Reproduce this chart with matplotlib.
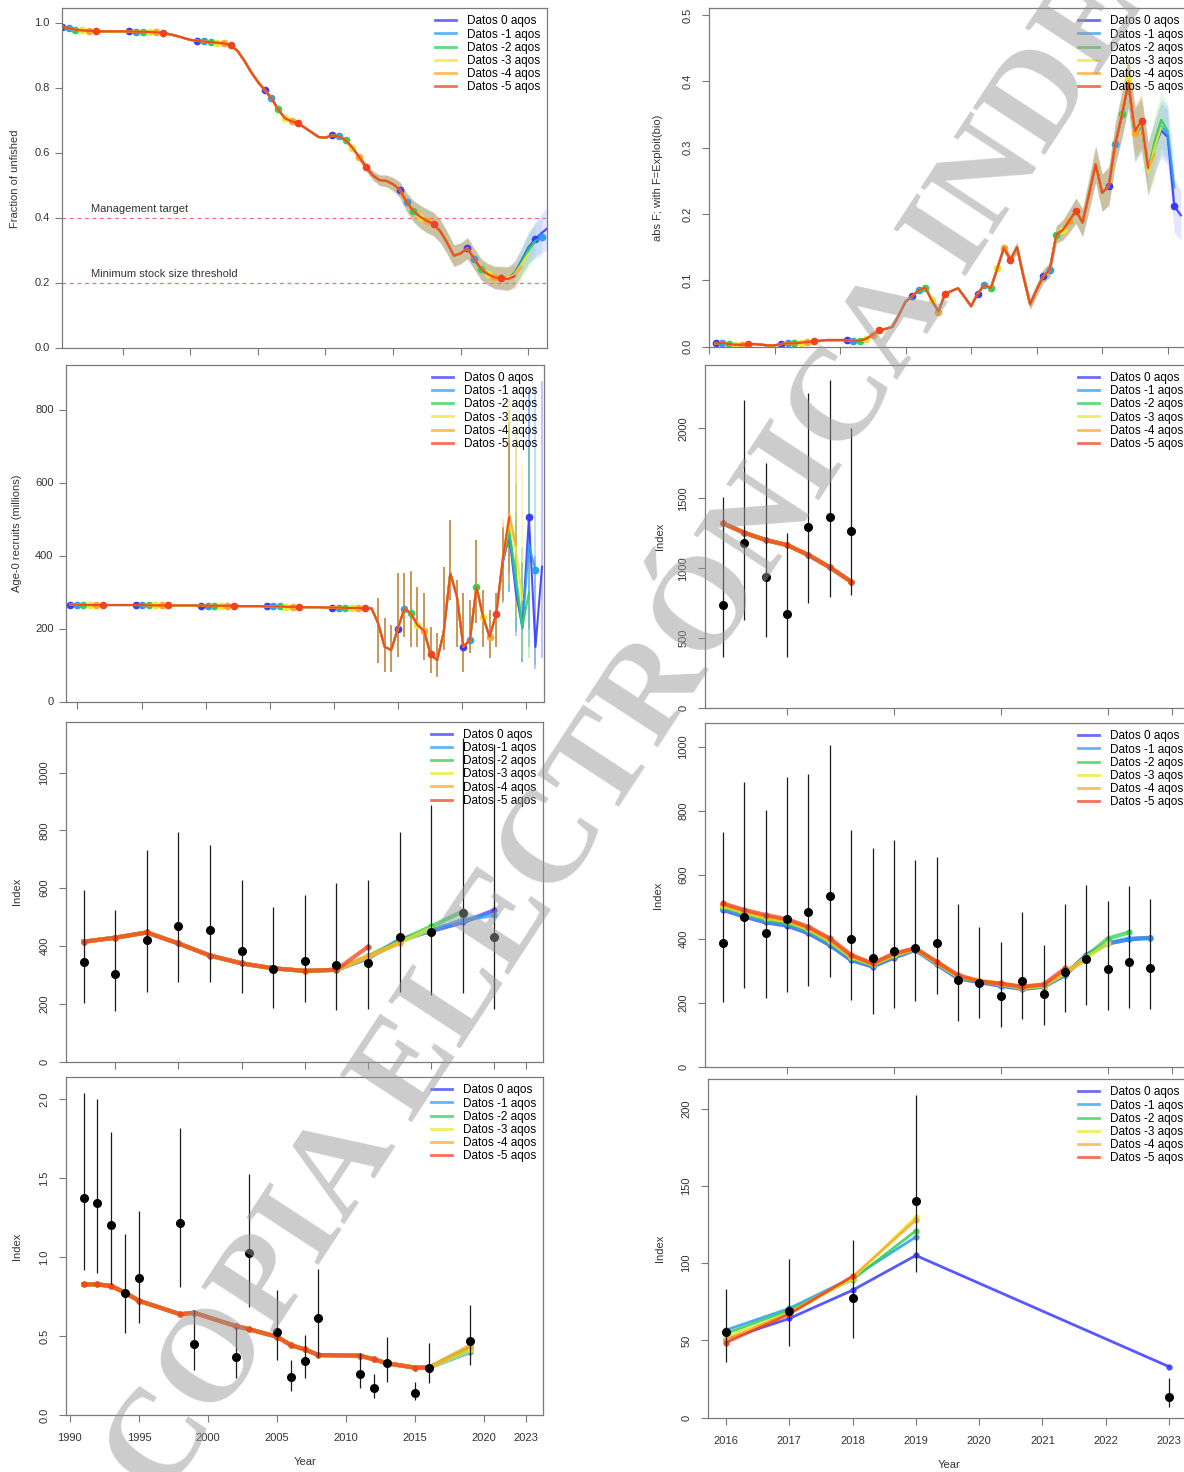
import numpy as np
import matplotlib
matplotlib.use("Agg")
import matplotlib.pyplot as plt
from matplotlib.lines import Line2D

plt.rcParams['font.family'] = ['Liberation Sans', 'DejaVu Sans']

# ======================= DATA =======================
model_labels = ["Datos 0 aqos", "Datos -1 aqos", "Datos -2 aqos",
                "Datos -3 aqos", "Datos -4 aqos", "Datos -5 aqos"]
model_colors = ["#3b3bff", "#2a9df4", "#2fd24f", "#e9e92a", "#ffa726", "#f0421f"]

# --- Fraction of unfished (spawning biomass ratio) ---
frac_years = np.arange(1951, 2013)
frac_common = [0.990, 0.985, 0.980, 0.978, 0.977, 0.976, 0.975, 0.975, 0.975, 0.975,
               0.975, 0.974, 0.974, 0.973, 0.972, 0.970, 0.966, 0.961, 0.955, 0.949,
               0.946, 0.944, 0.942, 0.940, 0.938, 0.932, 0.915, 0.885, 0.850, 0.820,
               0.795, 0.770, 0.735, 0.708, 0.698, 0.692, 0.678, 0.664, 0.650, 0.648,
               0.655, 0.652, 0.640, 0.617, 0.588, 0.558, 0.532, 0.517, 0.515, 0.505,
               0.488, 0.450, 0.422, 0.405, 0.392, 0.382, 0.360, 0.325, 0.285, 0.292,
               0.308, 0.275]
frac_tail_start = 2013
frac_tails = [
    [0.242, 0.226, 0.217, 0.215, 0.215, 0.232, 0.270, 0.310, 0.335, 0.355, 0.372],
    [0.243, 0.227, 0.218, 0.216, 0.215, 0.230, 0.266, 0.305, 0.330, 0.342],
    [0.244, 0.228, 0.219, 0.217, 0.216, 0.228, 0.262, 0.300, 0.328],
    [0.246, 0.230, 0.221, 0.219, 0.217, 0.227, 0.258, 0.290],
    [0.245, 0.229, 0.219, 0.217, 0.214, 0.224, 0.250],
    [0.245, 0.228, 0.218, 0.216, 0.213, 0.222],
]
frac_band_years = np.arange(1995, 2024)
frac_band_hw = [0.010, 0.012, 0.014, 0.016, 0.018, 0.020, 0.024, 0.028, 0.032, 0.035,
                0.036, 0.036, 0.035, 0.034, 0.033, 0.032, 0.032, 0.032, 0.032, 0.033,
                0.034, 0.035, 0.036, 0.038, 0.042, 0.047, 0.053, 0.060, 0.068]
target_level = 0.4
msst_level = 0.2

# --- Fishing intensity F ---
F_years = np.arange(1951, 2013)
F_common = [0.005, 0.006, 0.004, 0.003, 0.003, 0.004, 0.004, 0.003, 0.002, 0.002,
            0.004, 0.005, 0.005, 0.006, 0.007, 0.008, 0.009, 0.010, 0.010, 0.010,
            0.010, 0.009, 0.009, 0.012, 0.018, 0.025, 0.027, 0.030, 0.048, 0.068,
            0.076, 0.085, 0.089, 0.070, 0.053, 0.079, 0.084, 0.088, 0.075, 0.061,
            0.080, 0.093, 0.088, 0.118, 0.149, 0.131, 0.150, 0.105, 0.064, 0.086,
            0.106, 0.116, 0.169, 0.176, 0.190, 0.205, 0.187, 0.230, 0.275, 0.232,
            0.242, 0.306]
F_tail_start = 2013
F_tails = [
    [0.347, 0.398, 0.320, 0.335, 0.270, 0.300, 0.326, 0.316, 0.212, 0.198],
    [0.348, 0.398, 0.318, 0.333, 0.268, 0.300, 0.332, 0.322, 0.240],
    [0.350, 0.400, 0.318, 0.335, 0.265, 0.310, 0.342, 0.325],
    [0.352, 0.402, 0.320, 0.338, 0.262, 0.300, 0.330],
    [0.350, 0.400, 0.322, 0.342, 0.268, 0.290],
    [0.350, 0.398, 0.325, 0.340, 0.270],
]
F_band_years = np.arange(1995, 2023)
F_band_hw = [0.006, 0.007, 0.008, 0.008, 0.008, 0.009, 0.010, 0.011, 0.013, 0.015,
             0.017, 0.019, 0.021, 0.024, 0.027, 0.028, 0.029, 0.031, 0.034, 0.038,
             0.040, 0.040, 0.039, 0.040, 0.041, 0.042, 0.040, 0.038]

# --- Age-0 recruits (millions) ---
rec_years = np.arange(1951, 2017)
rec_common = [266, 266, 265, 265, 265, 265, 265, 265, 265, 265,
              265, 265, 264, 264, 264, 264, 264, 264, 264, 264,
              263, 263, 263, 263, 263, 263, 262, 262, 262, 262,
              261, 261, 261, 260, 260, 260, 259, 259, 259, 258,
              258, 258, 257, 257, 257, 256, 256,
              215, 150, 142, 200, 255, 242, 210, 195, 130, 114,
              190, 352, 290, 151, 169, 315, 233, 178, 240]
rec_bar_years = np.arange(1998, 2017)
rec_bar_lo = [106, 82, 82, 123, 178, 151, 151, 114, 78, 69, 142, 279, 151, 82, 133, 215, 151, 119, 151]
rec_bar_hi = [284, 229, 210, 352, 352, 357, 315, 297, 206, 188, 370, 498, 334, 297, 279, 443, 306, 251, 297]
rec_tail_start = 2017
rec_tails = [
    [380, 455, 300, 205, 505, 150, 370],
    [382, 460, 320, 200, 430, 360],
    [385, 470, 350, 205, 300],
    [390, 490, 420, 280],
    [392, 515, 430],
    [389, 505],
]
rec_tails_lo = [
    [270, 300, 180, 110, 200, 90, 120],
    [275, 300, 190, 110, 150, 100],
    [275, 310, 200, 110, 120],
    [280, 320, 230, 120],
    [280, 330, 250],
    [279, 352],
]
rec_tails_hi = [
    [470, 720, 500, 380, 860, 400, 880],
    [475, 740, 520, 380, 850, 860],
    [480, 760, 600, 420, 700],
    [490, 800, 760, 650],
    [500, 830, 720],
    [480, 709],
]

# --- Index (right column, top) ---
rt_years = np.arange(2002, 2009)
rt_obs = [738, 1178, 936, 674, 1297, 1364, 1266]
rt_lo = [369, 631, 511, 369, 750, 797, 809]
rt_hi = [1511, 2202, 1750, 1250, 2250, 2345, 2000]
rt_fit = [1321, 1254, 1202, 1166, 1095, 1007, 904]

# --- Index (left column, third panel) ---
l3_years = np.arange(2009, 2023)
l3_obs = [346, 305, 421, 470, 455, 384, 320, 348, 334, 340, 432, 450, 513, 432]
l3_lo = [202, 175, 240, 277, 277, 236, 187, 207, 179, 184, 242, 231, 236, 184]
l3_hi = [594, 524, 732, 795, 749, 628, 536, 576, 617, 628, 795, 888, 1120, 1100]
l3_common = [415, 429, 447, 409, 367, 340, 323, 314, 318]
l3_tail_start = 2018
l3_tails = [
    [358, 422, 452, 482, 524],
    [360, 415, 455, 490, 508],
    [365, 418, 468, 520],
    [362, 412, 460],
    [365, 410],
    [398],
]

# --- Index (right column, third panel) ---
rm_years = np.arange(2002, 2023)
rm_obs = [385, 469, 417, 461, 482, 534, 398, 339, 361, 370, 385, 271, 260, 221, 269, 226, 295, 335, 304, 328, 307]
rm_lo = [203, 245, 214, 232, 253, 281, 208, 164, 182, 205, 226, 143, 151, 125, 149, 130, 172, 193, 177, 182, 180]
rm_hi = [734, 891, 802, 906, 914, 1005, 740, 682, 708, 646, 656, 507, 438, 391, 484, 380, 507, 568, 518, 566, 524]
rm_fits = [
    [490, 469, 451, 441, 417, 380, 333, 313, 341, 365, 320, 276, 264, 253, 243, 250, 286, 349, 385, 398, 403],
    [494, 473, 455, 445, 421, 384, 336, 316, 344, 366, 322, 278, 266, 255, 245, 251, 288, 348, 385, 400, 402],
    [499, 478, 460, 450, 426, 389, 340, 318, 347, 367, 324, 280, 267, 257, 246, 252, 290, 345, 400, 420],
    [503, 482, 465, 455, 430, 393, 343, 320, 349, 368, 325, 282, 268, 258, 247, 253, 292, 340, 385],
    [507, 486, 469, 458, 434, 397, 346, 321, 351, 369, 327, 284, 269, 259, 249, 255, 296, 335],
    [510, 490, 474, 461, 437, 401, 349, 323, 354, 370, 328, 286, 266, 260, 250, 257, 307],
]

# --- Index (left column, bottom panel) ---
l4_years = np.array([1991, 1992, 1993, 1994, 1995, 1998, 1999, 2002, 2003, 2005,
                     2006, 2007, 2008, 2011, 2012, 2013, 2015, 2016, 2019])
l4_obs = [1.377, 1.345, 1.204, 0.775, 0.870, 1.219, 0.448, 0.365, 1.024, 0.524,
          0.239, 0.342, 0.617, 0.260, 0.173, 0.327, 0.137, 0.300, 0.471]
l4_lo = [0.92, 0.90, 0.83, 0.52, 0.58, 0.81, 0.285, 0.232, 0.686, 0.35,
         0.154, 0.232, 0.37, 0.169, 0.106, 0.211, 0.095, 0.20, 0.317]
l4_hi = [2.04, 2.00, 1.795, 1.15, 1.29, 1.816, 0.665, 0.56, 1.525, 0.79,
         0.35, 0.507, 0.923, 0.39, 0.26, 0.496, 0.211, 0.454, 0.697]
l4_common = [0.828, 0.828, 0.817, 0.775, 0.724, 0.638, 0.648, 0.564, 0.543, 0.496,
             0.443, 0.416, 0.380, 0.376, 0.353, 0.327, 0.300, 0.300]
l4_last = [0.42, 0.40, 0.43, 0.41, 0.44, None]

# --- Index (right column, bottom panel) ---
rb_years = np.array([2016, 2017, 2018, 2019, 2023])
rb_obs = [55.6, 69.2, 77.6, 140.3, 13.6]
rb_lo = [36.2, 46.3, 51.7, 94.4, 6.7]
rb_hi = [83.6, 102.4, 115.3, 208.6, 25.4]
rb_fits = [
    [50.6, 64.2, 82.5, 105.0, 33.0],
    [56.7, 70.7, 90.7, 117.0],
    [54.5, 69.6, 89.4, 121.0],
    [52.4, 67.5, 90.0, 130.0],
    [50.2, 67.9, 91.2, 128.0],
    [48.5, 67.0, 91.6],
]

watermark = "COPIA ELECTRÓNICA INDE"

# ======================= LAYOUT =======================
W, H = 1184, 1472
fig = plt.figure(figsize=(W / 100, H / 100), dpi=100)
AXC = "#7a7a7a"
TXC = "#333333"


def rect(x0, y0, x1, y1):
    return [x0 / W, 1 - y1 / H, (x1 - x0) / W, (y1 - y0) / H]


def setup(ax, xlim, ylim, xticks, yticks, yticklabels, yrot, ylabel, ylab_x,
          xticklabels=None, xlabel=None, xlab_y=-0.125):
    ax.set_facecolor('none')
    ax.set_xlim(*xlim)
    ax.set_ylim(*ylim)
    for s in ax.spines.values():
        s.set_color(AXC)
        s.set_linewidth(0.9)
    ax.set_xticks(xticks)
    if xticklabels is None:
        ax.set_xticklabels([])
    else:
        ax.set_xticklabels(xticklabels)
    ax.set_yticks(yticks)
    ax.set_yticklabels(yticklabels, rotation=90 if yrot else 0, va='center')
    ax.tick_params(axis='both', direction='out', length=5, width=0.8, color=AXC,
                   labelsize=8, labelcolor=TXC)
    ax.tick_params(axis='x', pad=8)
    ax.tick_params(axis='y', pad=7 if yrot else 4)
    ax.set_ylabel(ylabel, fontsize=8, color=TXC)
    ax.yaxis.set_label_coords(ylab_x, 0.5)
    if xlabel:
        ax.set_xlabel(xlabel, fontsize=8, color=TXC)
        ax.xaxis.set_label_coords(0.5, xlab_y)


def legend(ax):
    handles = [Line2D([0], [0], color=c, lw=2, alpha=0.75) for c in model_colors]
    ax.legend(handles, model_labels, loc='upper right', frameon=False, fontsize=8.5,
              handlelength=1.8, handletextpad=0.9, labelspacing=0.1,
              borderaxespad=0.3, borderpad=0.3)


def assemble(common_years, common_vals, tail_start, tail):
    yrs = np.concatenate([np.asarray(common_years, float),
                          tail_start + np.arange(len(tail), dtype=float)])
    vals = np.concatenate([np.asarray(common_vals, float), np.asarray(tail, float)])
    return yrs, vals


def draw_ts(ax, years, common, tail_start, tails, band_years=None, band_hw=None,
            start=1951, lw=1.6):
    for i, (tail, c) in enumerate(zip(tails, model_colors)):
        yrs, vals = assemble(years, common, tail_start, tail)
        if band_years is not None:
            m = np.isin(yrs, band_years)
            hw = np.asarray(band_hw)[np.searchsorted(band_years, yrs[m])]
            ax.fill_between(yrs[m], vals[m] - hw, vals[m] + hw, color=c, alpha=0.13, lw=0)
        ax.plot(yrs, vals, color=c, lw=lw, alpha=0.9, solid_joinstyle='round')
        mk = ((yrs - start) % 10) == i
        ax.plot(yrs[mk], vals[mk], 'o', color=c, ms=4.5, mec=c)


def draw_obs(ax, years, obs, lo, hi, ms=5.5):
    ax.vlines(years, lo, hi, color='#1a1a1a', lw=0.9, zorder=5)
    ax.plot(years, obs, 'o', color='black', ms=ms, zorder=6)


# ---------------- Panel 1: fraction of unfished ----------------
ax1 = fig.add_axes(rect(62.3, 8.3, 547.2, 348.3))
ax1.axhline(target_level, color='#ff6b6b', lw=0.9, ls=(0, (3, 3)))
ax1.axhline(msst_level, color='#ff6b6b', lw=0.9, ls=(0, (3, 3)))
draw_ts(ax1, frac_years, frac_common, frac_tail_start, frac_tails,
        frac_band_years, frac_band_hw)
ax1.text(1955.3, 0.43, "Management target", fontsize=8, color=TXC, va='center')
ax1.text(1955.3, 0.228, "Minimum stock size threshold", fontsize=8, color=TXC, va='center')
setup(ax1, (1951.08, 2022.8), (0, 1.046), np.arange(1960, 2021, 10),
      [0, 0.2, 0.4, 0.6, 0.8, 1.0], ["0.0", "0.2", "0.4", "0.6", "0.8", "1.0"], False,
      "Fraction of unfished", -0.087)
legend(ax1)

# ---------------- Panel 2: F ----------------
axF = fig.add_axes(rect(709, 8.3, 1190, 346.7))
draw_ts(axF, F_years, F_common, F_tail_start, F_tails, F_band_years, F_band_hw)
setup(axF, (1950, 2023.4), (0, 0.51), np.arange(1950, 2021, 10),
      [0, 0.1, 0.2, 0.3, 0.4, 0.5], ["0.0", "0.1", "0.2", "0.3", "0.4", "0.5"], True,
      "abs F; with F=Exploit(bio)", -0.0956)
legend(axF)

# ---------------- Panel 3: recruits ----------------
axR = fig.add_axes(rect(66, 365, 544, 701.7))
for i, c in enumerate(model_colors):
    bar_y = np.concatenate([rec_bar_years, rec_tail_start + np.arange(len(rec_tails[i]))])
    bar_lo = np.concatenate([rec_bar_lo, rec_tails_lo[i]])
    bar_hi = np.concatenate([rec_bar_hi, rec_tails_hi[i]])
    axR.vlines(bar_y, bar_lo, bar_hi, color=c, lw=1.1, alpha=0.4)
draw_ts(axR, rec_years, rec_common, rec_tail_start, rec_tails, lw=1.5)
rec_tick_px = 77.4 + 64.14 * np.arange(8)
setup(axR, (1950.39, 2023.3), (0, 923), 1951 + (rec_tick_px - 70) / 6.556,
      [0, 200, 400, 600, 800], ["0", "200", "400", "600", "800"], False,
      "Age-0 recruits (millions)", -0.092)
legend(axR)

# ---------------- Panel 4: index right top ----------------
axRT = fig.add_axes(rect(705.2, 365, 1190, 708.3))
for c in model_colors:
    axRT.plot(rt_years, rt_fit, '-o', color=c, lw=3, ms=3.5, alpha=0.75)
draw_obs(axRT, rt_years, rt_obs, rt_lo, rt_hi)
setup(axRT, (2001.17, 2023.85), (0, 2452), [2005, 2010, 2015, 2020, 2023],
      [0, 500, 1000, 1500, 2000], ["0", "500", "1000", "1500", "2000"], True,
      "Index", -0.083)
legend(axRT)

# ---------------- Panel 5: index left third ----------------
ax3 = fig.add_axes(rect(66, 721.7, 543.4, 1061.7))
for tail, c in zip(l3_tails, model_colors):
    yrs, vals = assemble(l3_years[:len(l3_common)], l3_common, l3_tail_start, tail)
    ax3.plot(yrs, vals, '-o', color=c, lw=3, ms=3.5, alpha=0.75)
draw_obs(ax3, l3_years, l3_obs, l3_lo, l3_hi)
setup(ax3, (2008.44, 2023.55), (0, 1176), [2010, 2012, 2014, 2016, 2018, 2020, 2022, 2023],
      [0, 200, 400, 600, 800, 1000], ["0", "200", "400", "600", "800", "1000"], True,
      "Index", -0.092)
legend(ax3)

# ---------------- Panel 6: index right third ----------------
axRM = fig.add_axes(rect(705.2, 723.3, 1190, 1066.7))
for fit, c in zip(rm_fits, model_colors):
    axRM.plot(rm_years[:len(fit)], fit, '-o', color=c, lw=3, ms=3.5, alpha=0.75)
draw_obs(axRM, rm_years, rm_obs, rm_lo, rm_hi)
setup(axRM, (2001.17, 2023.85), (0, 1073), [2005, 2010, 2015, 2020, 2023],
      [0, 200, 400, 600, 800, 1000], ["0", "200", "400", "600", "800", "1000"], True,
      "Index", -0.087)
legend(axRM)

# ---------------- Panel 7: index left bottom ----------------
ax4 = fig.add_axes(rect(66, 1077.3, 543.4, 1415))
for last, c in zip(l4_last, model_colors):
    if last is None:
        yrs, vals = l4_years[:len(l4_common)], np.asarray(l4_common)
    else:
        yrs = l4_years
        vals = np.concatenate([l4_common, [last]])
    ax4.plot(yrs, vals, '-o', color=c, lw=3, ms=3.5, alpha=0.75)
draw_obs(ax4, l4_years, l4_obs, l4_lo, l4_hi)
l4_ticks = [1990, 1995, 2000, 2005, 2010, 2015, 2020, 2023]
setup(ax4, (1989.72, 2024.29), (0, 2.14), l4_ticks,
      [0, 0.5, 1.0, 1.5, 2.0], ["0.0", "0.5", "1.0", "1.5", "2.0"], True,
      "Index", -0.092, xticklabels=[str(t) for t in l4_ticks], xlabel="Year",
      xlab_y=-0.124)
legend(ax4)

# ---------------- Panel 8: index right bottom ----------------
axRB = fig.add_axes(rect(708.2, 1079.3, 1190, 1417.7))
for fit, c in zip(rb_fits, model_colors):
    axRB.plot(rb_years[:len(fit)], fit, '-o', color=c, lw=2, ms=3.5, alpha=0.85)
draw_obs(axRB, rb_years, rb_obs, rb_lo, rb_hi)
rb_ticks = list(range(2016, 2024))
setup(axRB, (2015.72, 2023.33), (0, 219), rb_ticks,
      [0, 50, 100, 150, 200], ["0", "50", "100", "150", "200"], True,
      "Index", -0.0897, xticklabels=[str(t) for t in rb_ticks], xlabel="Year",
      xlab_y=-0.126)
legend(axRB)

# ---------------- watermark ----------------
fig.text(628 / W, 1 - 735 / H, watermark, rotation=56.8, rotation_mode='anchor',
         ha='center', va='center', fontsize=95,
         family=['Liberation Serif', 'DejaVu Serif'],
         weight='bold', color='#9a9a9a', alpha=0.5, zorder=20)

fig.savefig("out.png", dpi=100)
